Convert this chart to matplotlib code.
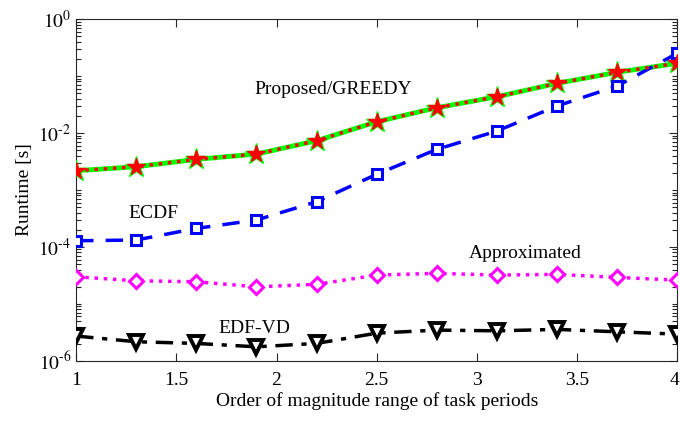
import math

import matplotlib
matplotlib.use("Agg")
import matplotlib.pyplot as plt
import matplotlib.transforms as mtransforms
from matplotlib.ticker import FixedLocator, FuncFormatter, NullFormatter

plt.rcParams["font.family"] = ["Liberation Serif", "DejaVu Serif"]
plt.rcParams["mathtext.fontset"] = "stix"

# order of magnitude range of task periods
x_range = [1.0, 1.3, 1.6, 1.9, 2.2, 2.5, 2.8, 3.1, 3.4, 3.7, 4.0]

# runtimes [s]
rt_proposed = [2.17e-3, 2.55e-3, 3.44e-3, 4.26e-3, 7.3e-3, 0.0157, 0.0277, 0.0432, 0.0743, 0.116, 0.167]
rt_greedy = [2.17e-3, 2.55e-3, 3.44e-3, 4.26e-3, 7.3e-3, 0.0157, 0.0277, 0.0432, 0.0743, 0.116, 0.167]
rt_ecdf = [1.28e-4, 1.32e-4, 2.11e-4, 2.96e-4, 6.2e-4, 1.88e-3, 5.15e-3, 0.0108, 0.0297, 0.0666, 0.25]
rt_approx = [2.98e-5, 2.54e-5, 2.44e-5, 1.99e-5, 2.20e-5, 3.2e-5, 3.43e-5, 3.2e-5, 3.29e-5, 2.91e-5, 2.61e-5]
rt_edfvd = [2.72e-6, 2.16e-6, 2.02e-6, 1.76e-6, 2.02e-6, 3.06e-6, 3.46e-6, 3.36e-6, 3.56e-6, 3.23e-6, 2.94e-6]

x_ticks = [1, 1.5, 2, 2.5, 3, 3.5, 4]
y_major = [1e-6, 1e-4, 1e-2, 1e0]


def _pow10_label(v, pos):
    e = int(round(math.log10(v)))
    if e < 0:
        return r"$10^{\text{-}%d}$" % (-e)
    return r"$10^{%d}$" % e


fig = plt.figure(figsize=(6.8, 4.22), dpi=100)
ax = fig.add_axes([0.112, 0.145, 0.884, 0.810])
ax.set_yscale("log")

# GREEDY underneath, Proposed dotted on top of it
ax.plot(x_range, rt_greedy, "-", color="#00ff00", lw=3.5, marker="*", ms=16,
        mfc="#00ff00", mec="#00ff00", zorder=3)
ax.plot(x_range, rt_proposed, ":", color="#ff0000", lw=2.5, marker="*", ms=13,
        mfc="#ff0000", mec="#ff0000", zorder=4)
ax.plot(x_range, rt_ecdf, "--", color="#0000ff", lw=2.5, dashes=(5, 3.5), marker="s",
        ms=7, mfc="white", mec="#0000ff", mew=2.2, zorder=3)
ax.plot(x_range, rt_approx, ":", color="#ff00ff", lw=2.5, marker="D", ms=7.5,
        mfc="white", mec="#ff00ff", mew=2.2, zorder=3)
ax.plot(x_range, rt_edfvd, "-.", color="black", lw=2.5, dashes=(5, 2.5, 1.5, 2.5),
        marker="v", ms=10, mfc="white", mec="black", mew=2.8, zorder=3)

ax.text(2.283, 0.0567, "Proposed/GREEDY", ha="center", va="center", fontsize=14)
ax.text(1.384, 3.92e-4, "ECDF", ha="center", va="center", fontsize=14)
ax.text(3.239, 7.78e-5, "Approximated", ha="center", va="center", fontsize=14)
ax.text(1.889, 3.75e-6, "EDF-VD", ha="center", va="center", fontsize=14)

ax.set_xlim(1, 4)
ax.set_ylim(1e-6, 1e0)
ax.set_xticks(x_ticks)
ax.set_xticklabels([f"{t:g}" for t in x_ticks])

ax.yaxis.set_major_locator(FixedLocator(y_major))
ax.yaxis.set_major_formatter(FuncFormatter(_pow10_label))
minor = [k * 10.0 ** e for e in range(-6, 0) for k in range(1, 10) if not (k == 1 and e % 2 == 0)]
ax.yaxis.set_minor_locator(FixedLocator(minor))
ax.yaxis.set_minor_formatter(NullFormatter())

ax.tick_params(which="both", direction="in", top=True, right=True, labelsize=14,
               color="#262626", width=0.8)
ax.tick_params(which="major", length=6)
ax.tick_params(which="minor", length=3.5)
ax.tick_params(axis="x", pad=8)
for s in ax.spines.values():
    s.set_color("#262626")
    s.set_linewidth(0.8)

# nudge the last x label so it stays inside the figure
last = ax.get_xticklabels()[-1]
last.set_transform(last.get_transform() + mtransforms.ScaledTranslation(-3 / 100, 0, fig.dpi_scale_trans))

ax.set_xlabel("Order of magnitude range of task periods", fontsize=14, labelpad=2)
ax.set_ylabel("Runtime [s]", fontsize=14, labelpad=4)

fig.savefig("out.png", dpi=100)
